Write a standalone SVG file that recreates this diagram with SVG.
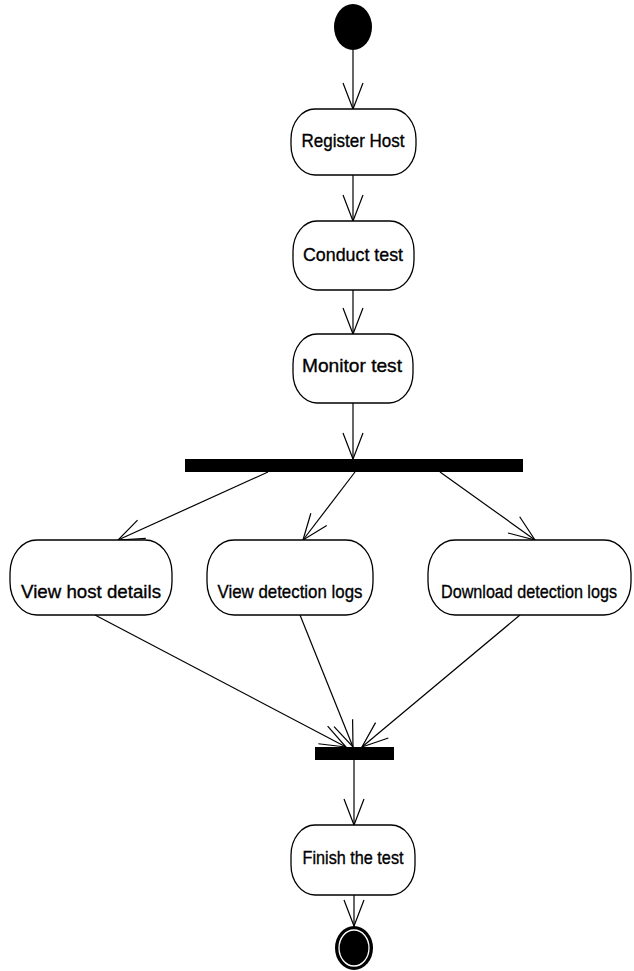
<svg xmlns="http://www.w3.org/2000/svg" width="634" height="971" viewBox="0 0 634 971">
<style>
.box{fill:#fff;stroke:#000;stroke-width:1.3}
.lbl{font-family:"Liberation Sans",Arial,sans-serif;font-size:19px;fill:#000;stroke:#000;stroke-width:0.35;text-anchor:middle}
.ln{fill:none;stroke:#000;stroke-width:1.2}
.bar{fill:#000}
</style>
<defs>
<marker id="arr" markerUnits="userSpaceOnUse" markerWidth="30" markerHeight="24" refX="26" refY="12" orient="auto" viewBox="0 0 30 24" overflow="visible">
<path d="M0,2 L26,12 L0,22" fill="none" stroke="#000" stroke-width="1.2"/>
</marker>
</defs>
<g id="connectors">
<line class="ln" x1="353" y1="50" x2="353" y2="109" marker-end="url(#arr)"/>
<line class="ln" x1="353" y1="175" x2="353" y2="221" marker-end="url(#arr)"/>
<line class="ln" x1="353" y1="290" x2="353" y2="334" marker-end="url(#arr)"/>
<line class="ln" x1="353" y1="403" x2="353" y2="459" marker-end="url(#arr)"/>
<line class="ln" x1="268" y1="472" x2="118" y2="540" marker-end="url(#arr)"/>
<line class="ln" x1="355" y1="472" x2="303" y2="540" marker-end="url(#arr)"/>
<line class="ln" x1="440" y1="472" x2="535" y2="540" marker-end="url(#arr)"/>
<line class="ln" x1="95" y1="615" x2="346" y2="747" marker-end="url(#arr)"/>
<line class="ln" x1="300" y1="615" x2="353" y2="747" marker-end="url(#arr)"/>
<line class="ln" x1="520" y1="615" x2="362" y2="747" marker-end="url(#arr)"/>
<line class="ln" x1="354" y1="760" x2="354" y2="825" marker-end="url(#arr)"/>
<line class="ln" x1="354" y1="895" x2="354" y2="926" marker-end="url(#arr)"/>
</g>
<g id="start"><ellipse cx="353" cy="27" rx="19" ry="23" fill="#000"/></g>
<g id="register"><rect class="box" x="291" y="109" width="125" height="66" rx="24" ry="30"/><text class="lbl" x="353" y="147" textLength="103" lengthAdjust="spacingAndGlyphs">Register Host</text></g>
<g id="conduct"><rect class="box" x="293" y="221" width="121" height="69" rx="24" ry="30"/><text class="lbl" x="353" y="261" textLength="100" lengthAdjust="spacingAndGlyphs">Conduct test</text></g>
<g id="monitor"><rect class="box" x="293" y="334" width="120" height="69" rx="24" ry="30"/><text class="lbl" x="352" y="372" textLength="100" lengthAdjust="spacingAndGlyphs">Monitor test</text></g>
<g id="fork"><rect class="bar" x="185" y="459" width="338" height="13"/></g>
<g id="hostdetails"><rect class="box" x="10" y="540" width="162" height="75" rx="27" ry="33"/><text class="lbl" x="91" y="598" textLength="140" lengthAdjust="spacingAndGlyphs">View host details</text></g>
<g id="viewlogs"><rect class="box" x="207" y="540" width="166" height="75" rx="27" ry="33"/><text class="lbl" x="290" y="598" textLength="145" lengthAdjust="spacingAndGlyphs">View detection logs</text></g>
<g id="downloadlogs"><rect class="box" x="428" y="540" width="203" height="75" rx="27" ry="33"/><text class="lbl" x="529" y="598" textLength="176" lengthAdjust="spacingAndGlyphs">Download detection logs</text></g>
<g id="join"><rect class="bar" x="315" y="747" width="79" height="13"/></g>
<g id="finish"><rect class="box" x="291" y="825" width="124" height="70" rx="24" ry="30"/><text class="lbl" x="353" y="864" textLength="101" lengthAdjust="spacingAndGlyphs">Finish the test</text></g>
<g id="end"><ellipse cx="354" cy="948" rx="19" ry="22" fill="#000"/><ellipse cx="354" cy="948" rx="15" ry="18" fill="none" stroke="#fff" stroke-width="1.3"/></g>
</svg>
